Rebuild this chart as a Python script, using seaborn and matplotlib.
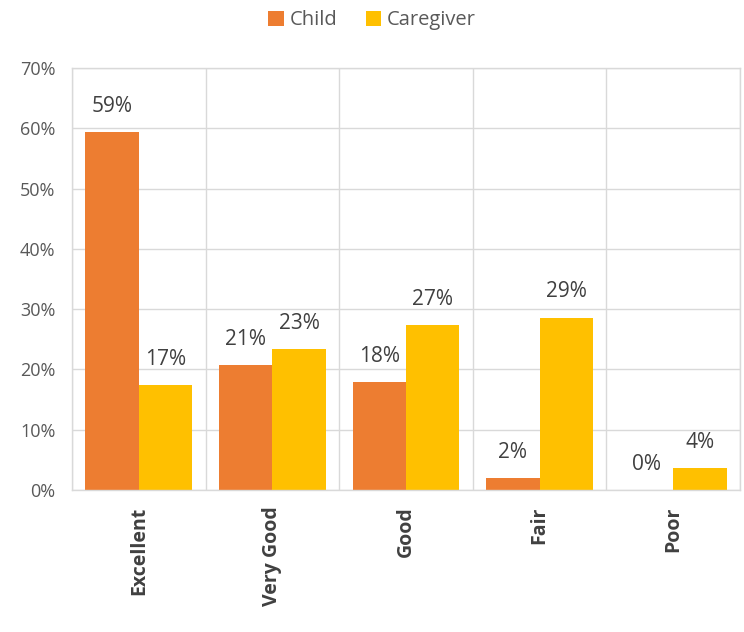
import matplotlib
matplotlib.use("Agg")
import matplotlib.pyplot as plt
import seaborn as sns
import pandas as pd
import numpy as np
from matplotlib.ticker import PercentFormatter, FixedLocator
from matplotlib.patches import Patch

categories = ["Excellent", "Very Good", "Good", "Fair", "Poor"]
child = [0.594, 0.207, 0.179, 0.020, 0.0]
caregiver = [0.174, 0.234, 0.274, 0.286, 0.036]
series = ["Child", "Caregiver"]
colors = ["#ED7D31", "#FFC000"]

df = pd.DataFrame({
    "Category": categories * 2,
    "Value": child + caregiver,
    "Series": ["Child"] * len(categories) + ["Caregiver"] * len(categories),
})

sns.set_style("white")
plt.rcParams["font.family"] = ["Open Sans", "DejaVu Sans"]

fig = plt.figure(figsize=(7.44, 6.32), dpi=100)
ax = fig.add_axes([0.0968, 0.2247, 0.8978, 0.6677])

sns.barplot(data=df, x="Category", y="Value", hue="Series", order=categories,
            hue_order=series, palette=colors, width=0.8, saturation=1,
            ax=ax, legend=False, edgecolor="none")

ax.set_ylim(0, 0.70)
ax.set_xlim(-0.5, len(categories) - 0.5)
ax.set_yticks(np.arange(0, 0.71, 0.1))
ax.yaxis.set_major_formatter(PercentFormatter(1.0, decimals=0))
ax.xaxis.set_minor_locator(FixedLocator(np.arange(-0.5, len(categories), 1.0)))
ax.grid(axis="y", which="major", color="#D9D9D9", linewidth=1.0)
ax.grid(axis="x", which="minor", color="#D9D9D9", linewidth=1.0)
ax.set_axisbelow(True)
for s in ax.spines.values():
    s.set_color("#D9D9D9")
    s.set_linewidth(1.0)

ax.tick_params(axis="y", length=0, labelsize=13, labelcolor="#595959", pad=12)
ax.tick_params(axis="x", which="both", length=0, labelsize=14, labelcolor="#404040", pad=12)
for lbl in ax.get_xticklabels():
    lbl.set_rotation(90)
    lbl.set_fontweight("bold")
ax.set_xlabel("")
ax.set_ylabel("")

for cont in ax.containers:
    ax.bar_label(cont, labels=[f"{v*100:.0f}%" for v in cont.datavalues],
                 padding=11, fontsize=15, color="#404040")

handles = [Patch(facecolor=c, edgecolor="none") for c in colors]
fig.legend(handles, series, loc="center", bbox_to_anchor=(0.5, 0.968), ncol=2,
           frameon=False, fontsize=14.5, handlelength=0.75, handleheight=0.75,
           handletextpad=0.3, columnspacing=1.4, labelcolor="#595959")

fig.savefig("out.png", dpi=100)
